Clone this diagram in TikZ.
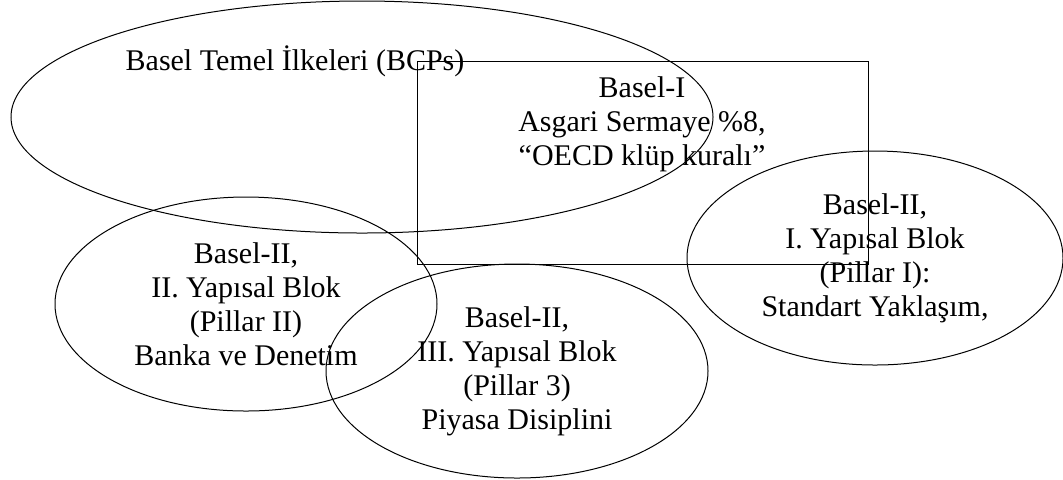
\documentclass[tikz,border=0pt]{standalone}
\usepackage{fontspec}
\setmainfont{Liberation Serif}
\usetikzlibrary{shapes.geometric}

\begin{document}
\begin{tikzpicture}[x=0.5pt, y=-0.5pt,
        every node/.style={font=\fontsize{15}{17}\selectfont, inner sep=0pt, align=center},
        oval/.style={draw, ellipse, line width=0.5pt},
        box/.style={draw, rectangle, line width=0.5pt}]
    \useasboundingbox (0,0) rectangle (1063,479);

    % outer shapes
    \node[oval, minimum width=351pt, minimum height=116pt] (bcp) at (362, 117) {};
    \node[box, minimum width=225.5pt, minimum height=101.5pt] (basel1) at (642.5, 162.5) {};

    \node[anchor=base] (bcplab) at (295, 70) {Basel Temel İlkeleri (BCPs)};
    \node (basel1lab) at (642, 124) {Basel-I\\Asgari Sermaye \%8,\\“OECD klüp kuralı”};

    % the three pillars
    \node[oval, minimum width=188pt, minimum height=107pt] (pillar1) at (875, 258)
        {Basel-II,\\I. Yapısal Blok\\(Pillar I):\\Standart Yaklaşım,};
    \node[oval, minimum width=191pt, minimum height=107pt] (pillar2) at (246, 304)
        {Basel-II,\\II. Yapısal Blok\\(Pillar II)\\Banka ve Denetim};
    \node[oval, minimum width=191pt, minimum height=107pt] (pillar3) at (517, 371)
        {Basel-II,\\III. Yapısal Blok\\(Pillar 3)\\Piyasa Disiplini};
\end{tikzpicture}
\end{document}
